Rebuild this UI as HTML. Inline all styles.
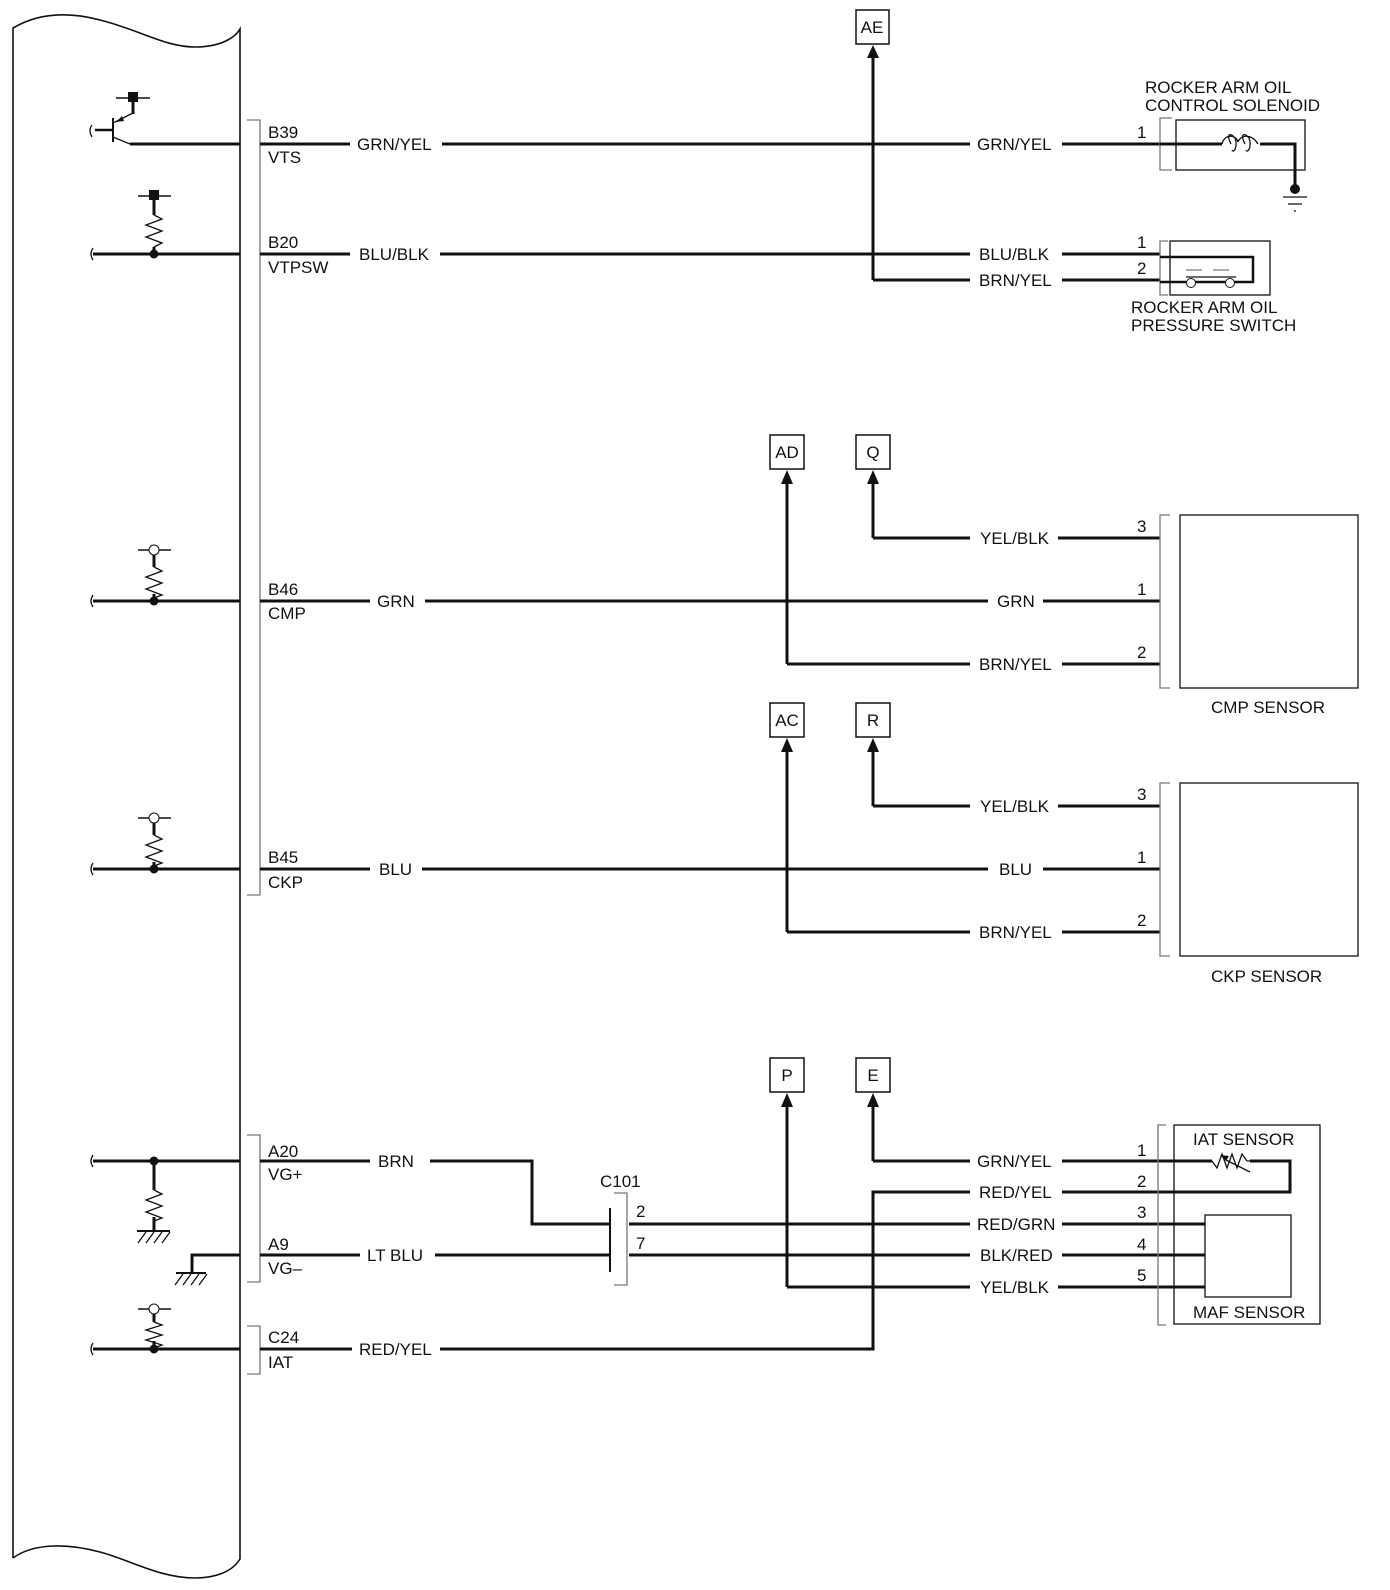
<!DOCTYPE html>
<html><head><meta charset="utf-8"><style>
html,body{margin:0;padding:0;background:#fff}
svg{display:block}
text{font-family:"Liberation Sans",Arial,sans-serif;font-size:17px;fill:#111}
.w{stroke:#111;stroke-width:3;fill:none}
.t{stroke:#111;stroke-width:1.3;fill:none}
.g{stroke:#777;stroke-width:1.3;fill:none}
.b{stroke:#111;stroke-width:1.5;fill:#fff}
.a{fill:#111}
</style></head><body>
<svg width="1390" height="1590" viewBox="0 0 1390 1590" xmlns="http://www.w3.org/2000/svg">
<!-- ECM body -->
<path class="t" d="M13,1558 L13,28 C40,12 70,12 100,20 C140,30 165,47 195,47 C220,47 235,38 240,29 L240,1559 C232,1572 215,1578 195,1578 C160,1578 130,1560 100,1552 C70,1544 35,1542 13,1558" style="stroke-width:1.6"/>
<path class="g" d="M247,120 L260,120 L260,895 L247,895"/>
<path class="g" d="M247,1135 L260,1135 L260,1282 L247,1282"/>
<path class="g" d="M247,1326 L260,1326 L260,1374 L247,1374"/>

<!-- Transistor row1 -->
<path class="w" d="M130,144 L240,144"/>
<path class="t" d="M113,137 L130,144"/>
<path class="w" d="M113,118 L113,142" style="stroke-width:2"/>
<path class="w" d="M95,130 L113,130" style="stroke-width:2.5"/>
<path class="t" d="M92,125 q-4,5 0,12"/>
<path class="t" d="M113,123 L133,113"/>
<path d="M116,122 l6,-6 l2,5 z" fill="#111"/>
<path class="w" d="M133,114 L133,100"/>
<rect x="128" y="92" width="10" height="10" fill="#111"/>
<path class="w" d="M116,98 L150,98" style="stroke-width:1.5"/>
<!-- row2 pullup -->
<path class="w" d="M93,254 L240,254"/>
<path class="t" d="M93,248 q-4,6 0,12"/>
<rect x="149" y="190" width="10" height="10" fill="#111"/>
<path class="w" d="M138,196 L171,196" style="stroke-width:1.5"/>
<path class="w" d="M154,200 L154,215"/>
<path class="t" d="M154,215 l8,4 l-16,6 l16,6 l-16,6 l16,6 l-8,4"/>
<path class="w" d="M154,247 L154,254"/>
<circle cx="154" cy="254" r="4.5" fill="#111"/>
<!-- CMP -->
<path class="w" d="M93,601 L240,601"/>
<path class="t" d="M93,595 q-4,6 0,12"/>
<path class="w" d="M138,550 L171,550" style="stroke-width:1.5"/>
<circle cx="154" cy="550" r="5" class="b" style="stroke-width:1"/>
<path class="w" d="M154,555 L154,567"/>
<path class="t" d="M154,567 l8,4 l-16,6 l16,6 l-16,6 l16,6 l-8,3"/>
<path class="w" d="M154,594 L154,601"/>
<circle cx="154" cy="601" r="4.5" fill="#111"/>
<!-- CKP -->
<path class="w" d="M93,869 L240,869"/>
<path class="t" d="M93,863 q-4,6 0,12"/>
<path class="w" d="M138,818 L171,818" style="stroke-width:1.5"/>
<circle cx="154" cy="818" r="5" class="b" style="stroke-width:1"/>
<path class="w" d="M154,823 L154,835"/>
<path class="t" d="M154,835 l8,4 l-16,6 l16,6 l-16,6 l16,6 l-8,3"/>
<path class="w" d="M154,862 L154,869"/>
<circle cx="154" cy="869" r="4.5" fill="#111"/>
<!-- A20 -->
<path class="w" d="M93,1161 L240,1161"/>
<path class="t" d="M93,1155 q-4,6 0,12"/>
<circle cx="154" cy="1161" r="4.5" fill="#111"/>
<path class="w" d="M154,1161 L154,1190"/>
<path class="t" d="M154,1190 l8,4 l-16,6 l16,6 l-16,6 l16,6 l-8,3"/>
<path class="w" d="M154,1217 L154,1231"/>
<path class="w" d="M137,1231 L170,1231" style="stroke-width:2"/>
<path class="t" d="M146,1232 l-8,11 M154,1232 l-8,11 M162,1232 l-8,11 M170,1232 l-8,11"/>
<!-- A9 -->
<path class="w" d="M240,1255 L192,1255 L192,1273"/>
<path class="w" d="M176,1273 L206,1273" style="stroke-width:2"/>
<path class="t" d="M183,1274 l-8,11 M191,1274 l-8,11 M199,1274 l-8,11 M207,1274 l-8,11"/>
<!-- C24 -->
<path class="w" d="M93,1349 L240,1349"/>
<path class="t" d="M93,1343 q-4,6 0,12"/>
<path class="w" d="M138,1309 L171,1309" style="stroke-width:1.5"/>
<circle cx="154" cy="1309" r="5" class="b" style="stroke-width:1"/>
<path class="w" d="M154,1314 L154,1322"/>
<path class="t" d="M154,1322 l8,3 l-16,5 l16,5 l-16,5 l16,5 l-8,3"/>
<path class="w" d="M154,1341 L154,1349"/>
<circle cx="154" cy="1349" r="4.5" fill="#111"/>

<!-- ECM pin labels -->
<text x="268" y="138">B39</text><text x="268" y="163">VTS</text>
<text x="268" y="248">B20</text><text x="268" y="273">VTPSW</text>
<text x="268" y="595">B46</text><text x="268" y="619">CMP</text>
<text x="268" y="863">B45</text><text x="268" y="888">CKP</text>
<text x="268" y="1157">A20</text><text x="268" y="1180">VG+</text>
<text x="268" y="1250">A9</text><text x="268" y="1274">VG–</text>
<text x="268" y="1343">C24</text><text x="268" y="1368">IAT</text>

<!-- Row1 -->
<path class="w" d="M260,144 L350,144 M442,144 L970,144 M1062,144 L1160,144"/>
<text x="357" y="150">GRN/YEL</text><text x="977" y="150">GRN/YEL</text>
<text x="1137" y="138">1</text>
<path class="g" d="M1172,118 L1160,118 L1160,170 L1172,170"/>
<rect x="1176" y="120" width="129" height="50" class="t"/>
<path class="w" d="M1160,144 L1222,144 M1260,144 L1295,144 L1295,187"/>
<path class="t" d="M1222,144 C1224,134 1236,134 1238,142 M1231,144 C1226,134 1230,132 1235,138 C1238,146 1234,154 1232,150 M1238,142 C1241,134 1252,134 1258,144 M1245,144 C1240,134 1244,132 1249,138 C1252,146 1248,154 1246,150"/>
<circle cx="1295" cy="189" r="5" fill="#111"/>
<path class="t" d="M1283,197 L1307,197 M1288,204 L1302,204 M1294,211 L1296,211"/>
<text x="1145" y="93">ROCKER ARM OIL</text>
<text x="1145" y="111">CONTROL SOLENOID</text>

<!-- Row2 -->
<path class="w" d="M260,254 L350,254 M440,254 L970,254 M1062,254 L1160,254"/>
<text x="359" y="260">BLU/BLK</text><text x="979" y="260">BLU/BLK</text>
<path class="w" d="M873,280 L970,280 M1062,280 L1160,280"/>
<text x="979" y="286">BRN/YEL</text>
<path class="w" d="M873,280 L873,52"/>
<polygon class="a" points="867,58 873,45 879,58"/>
<rect x="856" y="10" width="33" height="34" class="b"/><text x="872" y="33" text-anchor="middle">AE</text>
<text x="1137" y="248">1</text><text x="1137" y="274">2</text>
<path class="g" d="M1168,241 L1160,241 L1160,295 L1168,295"/>
<rect x="1170" y="241" width="100" height="54" class="t"/>
<path class="w" d="M1160,257 L1253,257 L1253,282 L1160,282" style="stroke-width:2.5"/>
<circle cx="1191" cy="283" r="4.5" class="b" style="stroke-width:1"/>
<circle cx="1230" cy="283" r="4.5" class="b" style="stroke-width:1"/>
<path class="t" d="M1186,277 L1236,277"/>
<path class="t" d="M1186,270 L1202,270 M1213,270 L1229,270" style="stroke:#777"/>
<text x="1131" y="313">ROCKER ARM OIL</text>
<text x="1131" y="331">PRESSURE SWITCH</text>

<!-- CMP -->
<rect x="770" y="435" width="34" height="34" class="b"/><text x="787" y="458" text-anchor="middle">AD</text>
<rect x="856" y="435" width="34" height="34" class="b"/><text x="873" y="458" text-anchor="middle">Q</text>
<path class="w" d="M873,538 L873,480"/><polygon class="a" points="867,484 873,470 879,484"/>
<path class="w" d="M787,664 L787,480"/><polygon class="a" points="781,484 787,470 793,484"/>
<path class="w" d="M873,538 L970,538 M1058,538 L1160,538"/>
<text x="980" y="544">YEL/BLK</text>
<path class="w" d="M260,601 L370,601 M425,601 L988,601 M1043,601 L1160,601"/>
<text x="377" y="607">GRN</text><text x="997" y="607">GRN</text>
<path class="w" d="M787,664 L970,664 M1062,664 L1160,664"/>
<text x="979" y="670">BRN/YEL</text>
<text x="1137" y="532">3</text><text x="1137" y="595">1</text><text x="1137" y="658">2</text>
<path class="g" d="M1170,515 L1160,515 L1160,688 L1170,688"/>
<rect x="1180" y="515" width="178" height="173" class="t"/>
<text x="1211" y="713">CMP SENSOR</text>

<!-- CKP -->
<rect x="770" y="703" width="34" height="34" class="b"/><text x="787" y="726" text-anchor="middle">AC</text>
<rect x="856" y="703" width="34" height="34" class="b"/><text x="873" y="726" text-anchor="middle">R</text>
<path class="w" d="M873,806 L873,748"/><polygon class="a" points="867,752 873,738 879,752"/>
<path class="w" d="M787,932 L787,748"/><polygon class="a" points="781,752 787,738 793,752"/>
<path class="w" d="M873,806 L970,806 M1058,806 L1160,806"/>
<text x="980" y="812">YEL/BLK</text>
<path class="w" d="M260,869 L370,869 M422,869 L988,869 M1043,869 L1160,869"/>
<text x="379" y="875">BLU</text><text x="999" y="875">BLU</text>
<path class="w" d="M787,932 L970,932 M1062,932 L1160,932"/>
<text x="979" y="938">BRN/YEL</text>
<text x="1137" y="800">3</text><text x="1137" y="863">1</text><text x="1137" y="926">2</text>
<path class="g" d="M1170,783 L1160,783 L1160,956 L1170,956"/>
<rect x="1180" y="783" width="178" height="173" class="t"/>
<text x="1211" y="982">CKP SENSOR</text>

<!-- Bottom -->
<rect x="770" y="1058" width="34" height="34" class="b"/><text x="787" y="1081" text-anchor="middle">P</text>
<rect x="856" y="1058" width="34" height="34" class="b"/><text x="873" y="1081" text-anchor="middle">E</text>
<path class="w" d="M873,1161 L873,1103"/><polygon class="a" points="867,1107 873,1093 879,1107"/>
<path class="w" d="M787,1287 L787,1103"/><polygon class="a" points="781,1107 787,1093 793,1107"/>
<path class="w" d="M873,1161 L970,1161 M1062,1161 L1160,1161"/>
<text x="977" y="1167">GRN/YEL</text>
<path class="w" d="M260,1161 L370,1161 M430,1161 L532,1161 L532,1224 L610,1224"/>
<text x="378" y="1167">BRN</text>
<path class="w" d="M260,1255 L360,1255 M435,1255 L610,1255"/>
<text x="367" y="1261">LT BLU</text>
<path class="w" d="M610,1208 L610,1272" style="stroke-width:2"/>
<path class="g" d="M614,1193 L627,1193 L627,1285 L614,1285"/>
<text x="600" y="1187">C101</text>
<text x="636" y="1217">2</text><text x="636" y="1249">7</text>
<path class="w" d="M629,1224 L970,1224 M1062,1224 L1160,1224"/>
<text x="977" y="1230">RED/GRN</text>
<path class="w" d="M629,1255 L970,1255 M1062,1255 L1160,1255"/>
<text x="980" y="1261">BLK/RED</text>
<path class="w" d="M787,1287 L970,1287 M1058,1287 L1160,1287"/>
<text x="980" y="1293">YEL/BLK</text>
<path class="w" d="M260,1349 L352,1349 M440,1349 L873,1349 L873,1192 L970,1192 M1062,1192 L1160,1192"/>
<text x="359" y="1355">RED/YEL</text><text x="979" y="1198">RED/YEL</text>
<text x="1137" y="1156">1</text><text x="1137" y="1187">2</text><text x="1137" y="1218">3</text><text x="1137" y="1250">4</text><text x="1137" y="1281">5</text>
<path class="g" d="M1166,1125 L1158,1125 L1158,1325 L1166,1325"/>
<rect x="1174" y="1125" width="146" height="199" class="t"/>
<text x="1193" y="1145">IAT SENSOR</text>
<path class="w" d="M1160,1161 L1212,1161 M1250,1161 L1290,1161 L1290,1192 L1160,1192"/>
<path class="t" d="M1212,1161 l5,7 l5,-14 l5,14 l5,-14 l5,14 l5,-14 l5,7 l3,0"/>
<path class="t" d="M1250,1172 L1226,1160"/>
<path d="M1220,1155 l9,1 l-3,5 z" fill="#111"/>
<path class="w" d="M1160,1224 L1205,1224 M1160,1255 L1205,1255 M1160,1287 L1205,1287"/>
<rect x="1205" y="1215" width="86" height="82" class="t"/>
<text x="1193" y="1318">MAF SENSOR</text>
</svg>
</body></html>
